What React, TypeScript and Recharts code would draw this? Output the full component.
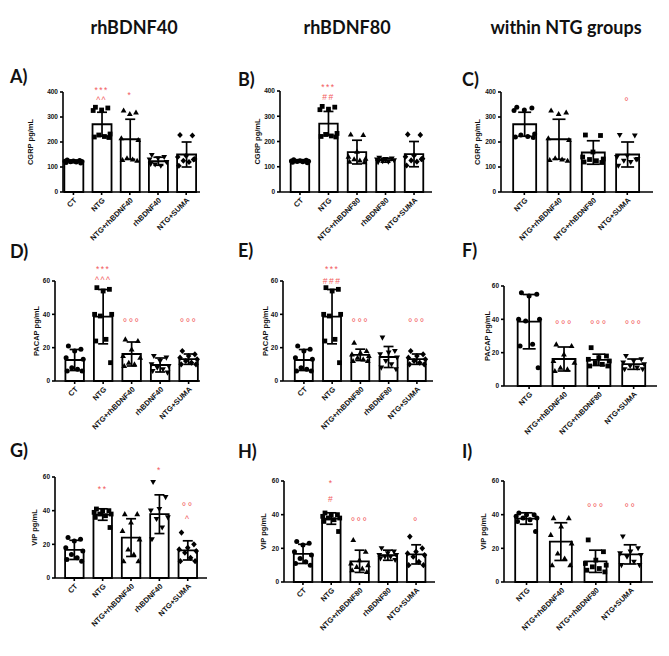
import React from 'react';
import { ComposedChart, Bar, ErrorBar, Scatter, XAxis, YAxis, ReferenceDot } from 'recharts';

const GROUPS = ['CT', 'NTG', 'NTG+rhBDNF40', 'rhBDNF40', 'NTG+rhBDNF80', 'rhBDNF80', 'NTG+SUMA'];

// CGRP pg/mL (one entry per GROUPS item)
const CGRP_MEAN = [123, 271, 211, 123, 158, 126, 150];
const CGRP_SD = [5, 48, 80, 16, 47, 8, 50];
const CGRP_POINTS = [
  [128, 126, 124, 123, 122, 121, 120, 118, 116],
  [339, 336, 328, 326, 232, 228, 222, 220, 218],
  [326, 318, 312, 215, 208, 135, 130, 128, 125],
  [148, 140, 135, 130, 120, 110, 105, 112],
  [228, 226, 160, 140, 132, 130, 125, 120, 118],
  [135, 132, 130, 128, 125, 122, 120, 118],
  [228, 226, 145, 140, 132, 125, 120, 105, 130],
];

// PACAP pg/mL
const PACAP_MEAN = [12.6, 38.6, 16.2, 9.6, 15.7, 14.4, 13.1];
const PACAP_SD = [6.3, 16.3, 7.2, 4.2, 3.4, 6.3, 3.1];
const PACAP_POINTS = [
  [21, 19, 18, 14, 13, 8, 7, 6, 6],
  [56, 55, 54, 40, 40, 39, 25, 24, 11],
  [25, 24, 19, 15, 14, 11, 10, 9],
  [15, 14, 12, 10, 9, 8, 7, 6, 5],
  [23, 18, 17, 16, 15, 14, 13, 12, 12],
  [26, 18, 17, 16, 14, 12, 10, 8, 7],
  [18, 16, 15, 14, 13, 12, 11, 10, 10],
];

// VIP pg/mL
const VIP_MEAN = [16.7, 37.7, 24, 37.9, 12.3, 15.9, 16.4];
const VIP_SD = [5.7, 3.4, 11.2, 11.5, 6.6, 3, 5.7];
const VIP_POINTS = [
  [24, 23, 22, 18, 16, 14, 12, 11, 10],
  [41, 40, 40, 39, 38, 38, 37, 36, 30],
  [38, 38, 33, 28, 23, 17, 14, 10, 10],
  [57, 48, 41, 40, 36, 35, 30, 23],
  [25, 18, 13, 11, 10, 9, 8, 7, 6],
  [20, 18, 17, 16, 16, 15, 15, 14, 13],
  [27, 20, 18, 17, 16, 15, 12, 10, 10],
];

const HEADERS = ['rhBDNF40', 'rhBDNF80', 'within NTG groups'];

const SET40 = ['CT', 'NTG', 'NTG+rhBDNF40', 'rhBDNF40', 'NTG+SUMA'];
const SET80 = ['CT', 'NTG', 'NTG+rhBDNF80', 'rhBDNF80', 'NTG+SUMA'];
const SET_NTG = ['NTG', 'NTG+rhBDNF40', 'NTG+rhBDNF80', 'NTG+SUMA'];

const MARK5 = ['circle', 'square', 'triangle', 'triangleDown', 'diamond'];
const MARK4 = ['circle', 'triangle', 'square', 'triangleDown'];

const MEASURES: Record<string, any> = {
  CGRP: { mean: CGRP_MEAN, sd: CGRP_SD, points: CGRP_POINTS, max: 400, ticks: [0, 100, 200, 300, 400], label: 'CGRP pg/mL' },
  PACAP: { mean: PACAP_MEAN, sd: PACAP_SD, points: PACAP_POINTS, max: 60, ticks: [0, 20, 40, 60], label: 'PACAP pg/mL' },
  VIP: { mean: VIP_MEAN, sd: VIP_SD, points: VIP_POINTS, max: 60, ticks: [0, 20, 40, 60], label: 'VIP pg/mL' },
};

// significance marks: group index, level (axis units), text
const PANELS = [
  { tag: 'A)', unit: 'CGRP', groups: SET40, marks: MARK5, notes: [[1, 410, '***'], [1, 369, '^^'], [2, 388, '*']] },
  { tag: 'B)', unit: 'CGRP', groups: SET80, marks: MARK5, notes: [[1, 416, '***'], [1, 375, '##']] },
  { tag: 'C)', unit: 'CGRP', groups: SET_NTG, marks: MARK4, notes: [[3, 362, '°']] },
  { tag: 'D)', unit: 'PACAP', groups: SET40, marks: MARK5, notes: [[1, 67, '***'], [1, 60.8, '^^^'], [2, 35, '°°°'], [4, 35, '°°°']] },
  { tag: 'E)', unit: 'PACAP', groups: SET80, marks: MARK5, notes: [[1, 67, '***'], [1, 60.2, '###'], [2, 35, '°°°'], [4, 35, '°°°']] },
  { tag: 'F)', unit: 'PACAP', groups: SET_NTG, marks: MARK4, notes: [[1, 36.5, '°°°'], [2, 36.5, '°°°'], [3, 36.5, '°°°']] },
  { tag: 'G)', unit: 'VIP', groups: SET40, marks: MARK5, notes: [[1, 53, '**'], [3, 64.4, '*'], [4, 42, '°°'], [4, 35, '^']] },
  { tag: 'H)', unit: 'VIP', groups: SET80, marks: MARK5, notes: [[1, 59, '*'], [1, 49.5, '#'], [2, 35.4, '°°°'], [4, 35.4, '°']] },
  { tag: 'I)', unit: 'VIP', groups: SET_NTG, marks: MARK4, notes: [[2, 43.7, '°°°'], [3, 43.7, '°°']] },
];

// page geometry of every plot area
const LAYOUT: Record<string, any> = {
  'A)': { ax: 63, end: 200, top: 92, bottom: 192, dom: [-0.37, 4.49], bar: 19, cap: 5, gap: 33, tx: 10, ty: 76 },
  'B)': { ax: 280, end: 432, top: 91, bottom: 192, dom: [-0.7, 4.63], bar: 18.5, cap: 5, gap: 23, tx: 238, ty: 79 },
  'C)': { ax: 501, end: 653, top: 92, bottom: 192, dom: [-0.68, 3.75], bar: 23, cap: 6.5, gap: 24, tx: 462, ty: 79 },
  'D)': { ax: 55, end: 200, top: 281, bottom: 381, dom: [-0.69, 4.4], bar: 18.5, cap: 5, gap: 19, tx: 10, ty: 251 },
  'E)': { ax: 283, end: 433, top: 281, bottom: 381, dom: [-0.74, 4.57], bar: 18, cap: 5, gap: 18, tx: 238, ty: 250 },
  'F)': { ax: 504, end: 657, top: 286, bottom: 386, dom: [-0.72, 3.67], bar: 23, cap: 6.5, gap: 17, tx: 462, ty: 250 },
  'G)': { ax: 55, end: 207, top: 477, bottom: 578, dom: [-0.68, 4.68], bar: 18.5, cap: 5, gap: 21, tx: 10, ty: 450 },
  'H)': { ax: 284, end: 435, top: 481, bottom: 582, dom: [-0.67, 4.67], bar: 18.5, cap: 5, gap: 21, tx: 238, ty: 451 },
  'I)': { ax: 504, end: 653, top: 481, bottom: 582, dom: [-0.65, 3.65], bar: 22, cap: 6.5, gap: 21, tx: 462, ty: 451 },
};
const HEADER_X = [134, 347, 566];

const JITTER = [-0.22, 0.22, 0, -0.3, 0.3, -0.1, 0.1, -0.26, 0.26];
const AXIS_FONT = '"Liberation Sans", Arial, sans-serif';
const AXIS_LINE = { stroke: '#000', strokeWidth: 1.6 };
const RED = '#f25a5c';

const Marker = (props: any) => {
  const { cx, cy } = props;
  const kind = props.payload?.kind;
  if (cx == null || cy == null) return null;
  switch (kind) {
    case 'square':
      return <rect x={cx - 2.4} y={cy - 2.4} width={4.8} height={4.8} fill="#000" />;
    case 'triangle':
      return <polygon points={`${cx},${cy - 3} ${cx - 2.9},${cy + 2.1} ${cx + 2.9},${cy + 2.1}`} fill="#000" />;
    case 'triangleDown':
      return <polygon points={`${cx},${cy + 3} ${cx - 2.9},${cy - 2.1} ${cx + 2.9},${cy - 2.1}`} fill="#000" />;
    case 'diamond':
      return <polygon points={`${cx},${cy - 3.1} ${cx + 2.8},${cy} ${cx},${cy + 3.1} ${cx - 2.8},${cy}`} fill="#000" />;
    default:
      return <circle cx={cx} cy={cy} r={2.5} fill="#000" />;
  }
};

const Panel = ({ p }: { p: any }) => {
  const m = MEASURES[p.unit];
  const L = LAYOUT[p.tag];
  const ML = 42, MT = 26, MR = 4, XH = 74;
  const w = ML + (L.end - L.ax) + MR;
  const h = MT + (L.bottom - L.top) + XH;

  const rows = p.groups.map((g: string, i: number) => {
    const k = GROUPS.indexOf(g);
    return { x: i, mean: m.mean[k], sd: m.sd[k] };
  });
  const pts = p.groups.flatMap((g: string, i: number) =>
    m.points[GROUPS.indexOf(g)].map((v: number, j: number) => ({
      x: i + JITTER[j % JITTER.length],
      v,
      kind: p.marks[i],
    }))
  );

  const yLabel = (lp: any) => {
    const vb = lp.viewBox;
    const cx = vb.x + vb.width - L.gap;
    const cy = vb.y + vb.height / 2;
    return (
      <text
        x={cx}
        y={cy}
        transform={`rotate(-90, ${cx}, ${cy})`}
        textAnchor="middle"
        dominantBaseline="central"
        fontFamily={AXIS_FONT}
        fontWeight={700}
        fontSize={7.5}
        fill="#111"
      >
        {m.label}
      </text>
    );
  };

  return (
    <div style={{ position: 'absolute', left: L.ax - ML, top: L.top - MT }}>
      <ComposedChart
        width={w}
        height={h}
        data={rows}
        margin={{ top: MT, right: MR, left: 0, bottom: 0 }}
        style={{ overflow: 'visible' }}
      >
        <XAxis
          xAxisId="bars"
          type="number"
          dataKey="x"
          domain={L.dom}
          ticks={p.groups.map((_: string, i: number) => i)}
          interval={0}
          tickFormatter={(v: number) => p.groups[v]}
          height={XH}
          angle={-45}
          textAnchor="end"
          tick={{ fontSize: 7.5, fontWeight: 700, fill: '#111', fontFamily: AXIS_FONT }}
          tickSize={3}
          axisLine={AXIS_LINE}
          tickLine={AXIS_LINE}
        />
        <XAxis xAxisId="pts" type="number" dataKey="x" domain={L.dom} hide />
        <YAxis
          type="number"
          domain={[0, m.max]}
          ticks={m.ticks}
          interval={0}
          width={ML}
          tick={{ fontSize: 6.5, fontWeight: 700, fill: '#111', fontFamily: AXIS_FONT }}
          tickSize={3}
          axisLine={AXIS_LINE}
          tickLine={AXIS_LINE}
          label={yLabel}
        />
        <Bar
          xAxisId="bars"
          dataKey="mean"
          fill="#fff"
          stroke="#000"
          strokeWidth={1.8}
          barSize={L.bar}
          isAnimationActive={false}
        >
          <ErrorBar dataKey="sd" width={L.cap} stroke="#000" strokeWidth={1.7} direction="y" />
        </Bar>
        <Scatter
          xAxisId="pts"
          data={pts}
          dataKey="v"
          shape={(sp: any) => <Marker {...sp} />}
          isAnimationActive={false}
        />
        {p.notes.map((n: any, k: number) => (
          <ReferenceDot
            key={k}
            xAxisId="bars"
            x={n[0]}
            y={n[1]}
            ifOverflow="visible"
            shape={(dp: any) => (
              <text
                x={dp.cx}
                y={dp.cy + 3}
                textAnchor="middle"
                fontFamily={AXIS_FONT}
                fontSize={n[2].startsWith('°') ? 11 : 8.5}
                letterSpacing={1.5}
                fill={RED}
              >
                {n[2]}
              </text>
            )}
          />
        ))}
      </ComposedChart>
    </div>
  );
};

const App = () => {
  return (
    <div
      style={{
        position: 'absolute',
        left: 0,
        top: 0,
        width: 669,
        height: 656,
        background: '#fff',
        overflow: 'hidden',
      }}
    >
      {HEADERS.map((t, i) => (
        <div
          key={t}
          style={{
            position: 'absolute',
            left: HEADER_X[i],
            top: 16,
            transform: 'translateX(-50%)',
            whiteSpace: 'nowrap',
            fontFamily: 'Lato, "Open Sans", sans-serif',
            fontWeight: 700,
            fontSize: 18,
            lineHeight: '22px',
            color: '#111',
          }}
        >
          {t}
        </div>
      ))}
      {PANELS.map((p) => (
        <React.Fragment key={p.tag}>
          <div
            style={{
              position: 'absolute',
              left: LAYOUT[p.tag].tx,
              top: LAYOUT[p.tag].ty - 11,
              fontFamily: 'Lato, "Open Sans", sans-serif',
              fontWeight: 700,
              fontSize: 18,
              lineHeight: '22px',
              color: '#111',
            }}
          >
            {p.tag}
          </div>
          <Panel p={p} />
        </React.Fragment>
      ))}
    </div>
  );
};

export default App;
